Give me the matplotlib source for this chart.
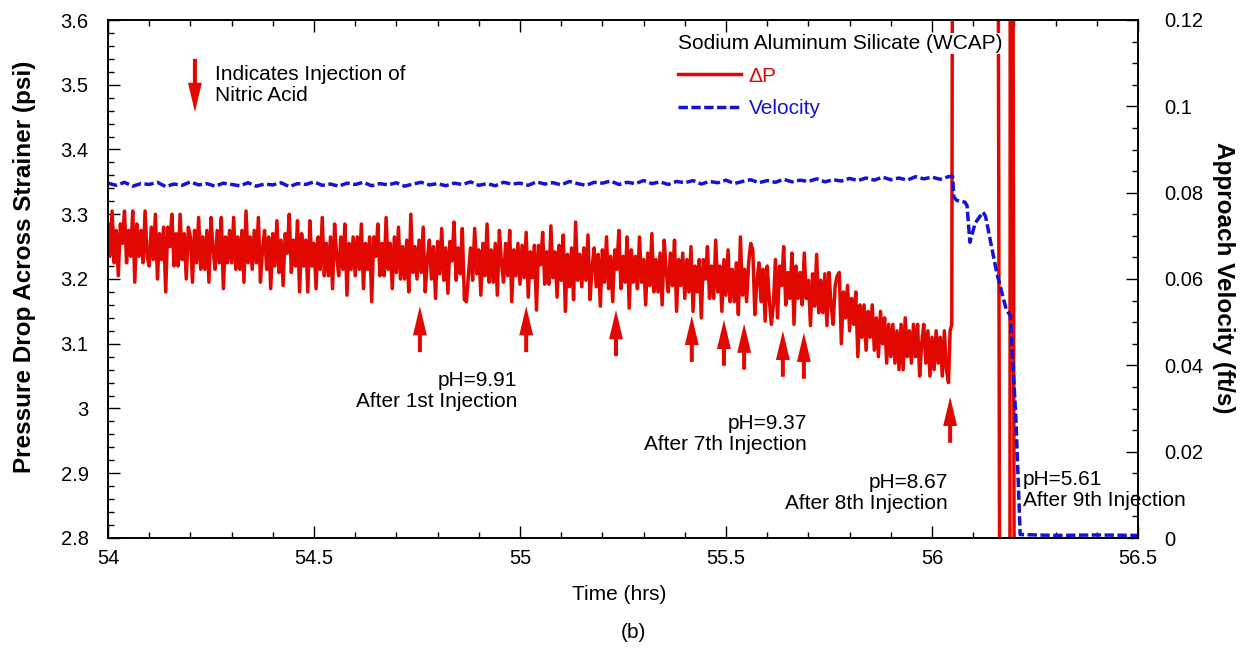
import numpy as np
import matplotlib.pyplot as plt
from matplotlib.ticker import MultipleLocator, FormatStrFormatter

plt.rcParams['font.family'] = ['Liberation Sans', 'DejaVu Sans']

red = '#e00800'
blue = '#1414d2'

# pressure drop (psi), logged every 0.005 h starting at 54.000 h (one row = 0.1 h)
dp_vals = [
    3.285, 3.235, 3.305, 3.225, 3.275, 3.205, 3.285, 3.255, 3.305, 3.225, 3.275, 3.235, 3.305, 3.195, 3.285, 3.235, 3.275, 3.225, 3.305, 3.235,
    3.22, 3.28, 3.23, 3.30, 3.20, 3.27, 3.23, 3.28, 3.18, 3.28, 3.25, 3.30, 3.22, 3.27, 3.22, 3.30, 3.23, 3.27, 3.20, 3.28,
    3.265, 3.195, 3.275, 3.225, 3.295, 3.215, 3.265, 3.215, 3.275, 3.195, 3.295, 3.245, 3.215, 3.275, 3.225, 3.295, 3.185, 3.265, 3.225, 3.275,
    3.225, 3.295, 3.215, 3.265, 3.215, 3.275, 3.195, 3.305, 3.225, 3.265, 3.215, 3.275, 3.225, 3.295, 3.195, 3.245, 3.275, 3.215, 3.265, 3.185,
    3.27, 3.22, 3.29, 3.21, 3.26, 3.19, 3.27, 3.24, 3.30, 3.21, 3.26, 3.22, 3.29, 3.18, 3.27, 3.22, 3.26, 3.18, 3.29, 3.22,
    3.255, 3.185, 3.265, 3.215, 3.295, 3.205, 3.255, 3.205, 3.265, 3.185, 3.285, 3.235, 3.205, 3.265, 3.215, 3.285, 3.175, 3.255, 3.215, 3.265,
    3.205, 3.265, 3.215, 3.285, 3.185, 3.255, 3.215, 3.265, 3.165, 3.265, 3.235, 3.285, 3.205, 3.255, 3.205, 3.295, 3.215, 3.255, 3.185, 3.265,
    3.21, 3.28, 3.20, 3.25, 3.20, 3.26, 3.18, 3.30, 3.21, 3.25, 3.20, 3.26, 3.21, 3.28, 3.18, 3.23, 3.26, 3.20, 3.25, 3.17,
    3.258, 3.208, 3.278, 3.198, 3.248, 3.178, 3.258, 3.228, 3.288, 3.198, 3.248, 3.208, 3.278, 3.168, 3.165, 3.208, 3.248, 3.198, 3.278, 3.208,
    3.245, 3.175, 3.255, 3.205, 3.285, 3.195, 3.245, 3.195, 3.255, 3.175, 3.275, 3.225, 3.195, 3.255, 3.205, 3.275, 3.165, 3.245, 3.205, 3.255,
    3.192, 3.252, 3.202, 3.272, 3.172, 3.242, 3.202, 3.252, 3.152, 3.252, 3.222, 3.272, 3.192, 3.242, 3.192, 3.282, 3.202, 3.242, 3.172, 3.252,
    3.198, 3.268, 3.150, 3.238, 3.188, 3.248, 3.168, 3.288, 3.198, 3.238, 3.188, 3.248, 3.198, 3.268, 3.168, 3.218, 3.248, 3.188, 3.238, 3.158,
    3.245, 3.195, 3.265, 3.185, 3.235, 3.165, 3.245, 3.215, 3.275, 3.185, 3.235, 3.195, 3.265, 3.155, 3.245, 3.195, 3.235, 3.185, 3.265, 3.195,
    3.23, 3.16, 3.24, 3.19, 3.27, 3.18, 3.23, 3.18, 3.24, 3.16, 3.26, 3.21, 3.18, 3.24, 3.19, 3.26, 3.15, 3.23, 3.19, 3.24,
    3.17, 3.23, 3.18, 3.25, 3.15, 3.22, 3.18, 3.23, 3.14, 3.23, 3.20, 3.25, 3.17, 3.22, 3.17, 3.26, 3.18, 3.22, 3.15, 3.23,
    3.175, 3.245, 3.165, 3.215, 3.165, 3.225, 3.145, 3.265, 3.175, 3.215, 3.165, 3.225, 3.255, 3.245, 3.145, 3.195, 3.225, 3.165, 3.215, 3.135,
    3.22, 3.17, 3.13, 3.16, 3.23, 3.14, 3.22, 3.19, 3.25, 3.16, 3.21, 3.17, 3.24, 3.13, 3.22, 3.17, 3.21, 3.16, 3.24, 3.17,
    3.198, 3.128, 3.208, 3.158, 3.238, 3.148, 3.198, 3.148, 3.208, 3.128, 3.210, 3.160, 3.130, 3.190, 3.205, 3.210, 3.100, 3.180, 3.140, 3.190,
    3.12, 3.17, 3.13, 3.18, 3.08, 3.16, 3.11, 3.16, 3.09, 3.15, 3.11, 3.16, 3.09, 3.14, 3.08, 3.15, 3.10, 3.14, 3.07, 3.13,
    3.08, 3.13, 3.07, 3.12, 3.06, 3.13, 3.06, 3.14, 3.08, 3.12, 3.07, 3.13, 3.08, 3.13, 3.05, 3.10, 3.13, 3.07, 3.12, 3.05,
    3.11, 3.06, 3.12, 3.07, 3.11, 3.05, 3.12, 3.06, 3.04,
]
dp_t = 54.0 + 0.005 * np.arange(len(dp_vals))
# after the 8th injection the signal runs off the plotted range
dp_tail_t = [56.044, 56.048, 56.050, 56.160, 56.165, 56.189, 56.190,
             56.192, 56.194, 56.196, 56.200, 56.500]
dp_tail = [3.12, 3.13, 3.90, 3.90, 2.50, 2.50, 3.90, 3.30, 3.30, 3.90, 2.50, 2.50]

# approach velocity (ft/s), every 0.02 h from 54.00 h
vel_vals = [
    0.0822, 0.0817, 0.0824, 0.0815, 0.0821, 0.0819, 0.0824, 0.0814, 0.0820, 0.0817,
    0.0825, 0.0818, 0.0821, 0.0815, 0.0822, 0.0819, 0.0816, 0.0823, 0.0815, 0.0820,
    0.0818, 0.0823, 0.0814, 0.0821, 0.0819, 0.0825, 0.0817, 0.0820, 0.0815, 0.0822,
    0.0819, 0.0824, 0.0816, 0.0821, 0.0818, 0.0823, 0.0815, 0.0820, 0.0824, 0.0818,
    0.0821, 0.0816, 0.0822, 0.0819, 0.0825, 0.0817, 0.0821, 0.0816, 0.0824, 0.0820,
    0.0822, 0.0817, 0.0825, 0.0820, 0.0823, 0.0818, 0.0826, 0.0821, 0.0817, 0.0824,
    0.0822, 0.0827, 0.0819, 0.0824, 0.0821, 0.0828, 0.0821, 0.0825, 0.0819, 0.0826,
    0.0823, 0.0828, 0.0820, 0.0826, 0.0823, 0.0829, 0.0821, 0.0826, 0.0830, 0.0823,
    0.0828, 0.0824, 0.0831, 0.0825, 0.0829, 0.0826, 0.0832, 0.0825, 0.0830, 0.0827,
    0.0833, 0.0828, 0.0834, 0.0829, 0.0836, 0.0830, 0.0834, 0.0829, 0.0837, 0.0832,
    0.0836, 0.0831, 0.0837,
]
vel_t = 54.0 + 0.02 * np.arange(len(vel_vals))
vel_tail_t = [56.050, 56.053, 56.060, 56.080, 56.085, 56.092, 56.105, 56.124,
              56.130, 56.157, 56.180, 56.190, 56.204, 56.214, 56.300, 56.400, 56.500]
vel_tail = [0.0838, 0.0790, 0.0782, 0.0778, 0.0770, 0.0685, 0.0730, 0.0755,
            0.0745, 0.0615, 0.0530, 0.0515, 0.0270, 0.0008, 0.0006, 0.0007, 0.0006]

# nitric acid injections: time (h) and pressure at the arrow tip
inj_t = [54.757, 55.015, 55.233, 55.417, 55.495, 55.544, 55.638, 55.689, 56.044]
inj_tip = [3.158, 3.158, 3.152, 3.143, 3.137, 3.131, 3.120, 3.117, 3.018]

notes = [
    ('pH=9.91\nAfter 1st Injection', 54.993, 3.027, 'right'),
    ('pH=9.37\nAfter 7th Injection', 55.697, 2.961, 'right'),
    ('pH=8.67\nAfter 8th Injection', 56.039, 2.869, 'right'),
    ('pH=5.61\nAfter 9th Injection', 56.221, 2.874, 'left'),
]

fig = plt.figure(figsize=(12.47, 6.53), dpi=100)
ax = fig.add_axes([108 / 1247, 115 / 653, 1030 / 1247, 518 / 653])
ax2 = ax.twinx()

l_dp, = ax.plot(np.concatenate([dp_t, dp_tail_t]), dp_vals + dp_tail,
                color=red, lw=2.5)
l_vel, = ax2.plot(np.concatenate([vel_t, vel_tail_t]), vel_vals + vel_tail,
                  color=blue, lw=2.5, ls=(0, (2.7, 1.0)))

ax.set_xlim(54, 56.5)
ax.set_ylim(2.8, 3.6)
ax2.set_ylim(0, 0.12)

ax.xaxis.set_major_locator(MultipleLocator(0.5))
ax.xaxis.set_minor_locator(MultipleLocator(0.1))
ax.yaxis.set_major_locator(MultipleLocator(0.1))
ax.yaxis.set_minor_locator(MultipleLocator(0.02))
ax2.yaxis.set_major_locator(MultipleLocator(0.02))
ax2.yaxis.set_minor_locator(MultipleLocator(0.005))
ax.xaxis.set_major_formatter(FormatStrFormatter('%g'))
ax.yaxis.set_major_formatter(FormatStrFormatter('%g'))
ax2.yaxis.set_major_formatter(FormatStrFormatter('%g'))

ax.tick_params(which='both', direction='in', top=True, right=False, width=1, labelsize=14.5)
ax.tick_params(which='major', length=8.5)
ax.tick_params(which='minor', length=4.3)
ax.tick_params(axis='y', pad=14)
ax.tick_params(axis='x', pad=8)
ax2.tick_params(which='both', direction='in', left=False, right=True, width=1, labelsize=14.5)
ax2.tick_params(which='major', length=8.5, pad=19)
ax2.tick_params(which='minor', length=4.3)
for a in (ax, ax2):
    for s in a.spines.values():
        s.set_linewidth(1.2)

arrow_style = 'simple,head_width=0.5,head_length=1.05,tail_width=0.145'
for t, p in zip(inj_t, inj_tip):
    ax.annotate('', xy=(t, p), xytext=(t, p - 0.071),
                arrowprops=dict(arrowstyle=arrow_style, fc=red, ec='none',
                                shrinkA=0, shrinkB=0, mutation_scale=20))

# key arrow in the upper left corner
ax.annotate('', xy=(54.211, 3.458), xytext=(54.211, 3.54),
            arrowprops=dict(arrowstyle=arrow_style, fc=red, ec='none',
                            shrinkA=0, shrinkB=0, mutation_scale=20))
ax.text(54.26, 3.50, 'Indicates Injection of\nNitric Acid', fontsize=15,
        ha='left', va='center', linespacing=1.15)

for txt, t, p, ha in notes:
    ax.text(t, p, txt, fontsize=15, ha=ha, va='center', multialignment=ha,
            linespacing=1.15)

leg = ax2.legend([l_dp, l_vel], ['\u0394P', 'Velocity'],
                 title='Sodium Aluminum Silicate (WCAP)',
                 loc='upper left', bbox_to_anchor=(0.5534, 0.973),
                 frameon=False, fontsize=15, title_fontsize=15,
                 handlelength=3.0, handletextpad=0.4, labelspacing=0.66,
                 borderpad=0, borderaxespad=0, alignment='left',
                 labelcolor='linecolor')
leg.get_title().set_bbox(dict(facecolor='white', edgecolor='none', pad=1))

fig.text(25 / 1247, 1 - 267 / 653, 'Pressure Drop Across Strainer (psi)',
         rotation=90, ha='center', va='center', fontsize=17.5, fontweight='bold')
fig.text(1224 / 1247, 1 - 278 / 653, 'Approach Velocity (ft/s)',
         rotation=-90, ha='center', va='center', fontsize=17.5, fontweight='bold')
fig.text(619 / 1247, 1 - 594 / 653, 'Time (hrs)', ha='center', va='center', fontsize=15)
fig.text(633 / 1247, 1 - 633 / 653, '(b)', ha='center', va='center', fontsize=15)

fig.savefig('out.png', dpi=100)
